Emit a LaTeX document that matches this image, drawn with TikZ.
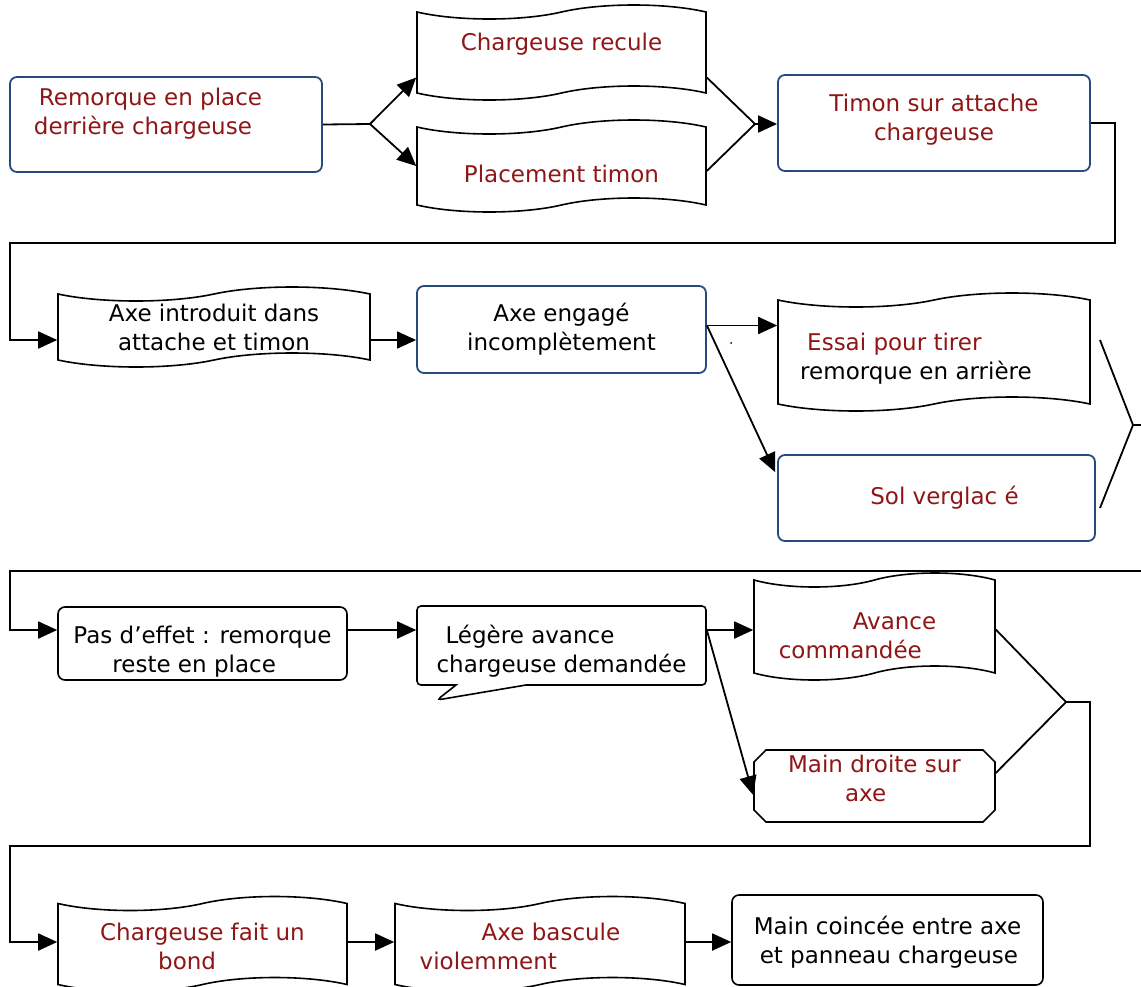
\documentclass[tikz,border=0pt]{standalone}
\usepackage{fontspec}
\setmainfont{DejaVu Sans}
\usetikzlibrary{shapes.symbols,shapes.callouts,shapes.misc,arrows.meta,positioning,calc}

\definecolor{boxred}{RGB}{143,22,22}
\definecolor{boxblue}{RGB}{37,75,125}

\tikzset{
  every node/.style={font=\fontsize{23}{29}\selectfont, inner sep=2pt},
  bluebox/.style={draw=boxblue, line width=1.8pt, rounded corners=7pt, text=boxred, align=center},
  blackbox/.style={draw, line width=1.6pt, rounded corners=7pt, align=center},
  flag/.style={draw, tape, line width=1.6pt, tape bend height=14pt, align=center},
  bubble/.style={draw, rectangle callout, line width=1.6pt, rounded corners=4pt, align=left},
  cutbox/.style={draw, chamfered rectangle, chamfered rectangle xsep=6pt, chamfered rectangle ysep=6pt, line width=1.6pt, align=center},
  lift/.style 2 args={text height=#1, text depth=#2},
  arr/.style={line width=1.8pt, -{Triangle[length=19pt,width=17pt]}},
  link/.style={line width=1.8pt},
}

\begin{document}
\begin{tikzpicture}[x=1pt,y=-1pt]
  \useasboundingbox (0,0) rectangle (1141,986);
  \clip (0,0) rectangle (1141,986);

  % Nodes
  \node[bluebox, minimum width=312pt, minimum height=95pt, align=left, lift={25pt}{6pt}] (remorque) at (166,124.5) {\hspace*{5pt}Remorque en place\hspace*{36pt}\\derrière chargeuse}; % start
  \node[flag, text=boxred, minimum width=289pt, minimum height=95pt, lift={18pt}{22pt}] (recule) at (561.5,52.5) {Chargeuse recule};
  \node[flag, text=boxred, minimum width=289pt, minimum height=92pt, lift={38pt}{6pt}] (placement) at (561.5,166) {Placement timon};
  \node[bluebox, minimum width=312pt, minimum height=96pt, lift={41pt}{6pt}] (timon) at (934,123) {Timon sur attache\\chargeuse};

  \node[flag, minimum width=312pt, minimum height=80pt] (introduit) at (214,327) {Axe introduit dans\\attache et timon};
  \node[bluebox, text=black, minimum width=289pt, minimum height=87pt] (engage) at (561.5,329.5) {Axe engagé\\incomplètement};
  \node[flag, minimum width=312pt, minimum height=118pt, align=left, lift={61pt}{6pt}] (essai) at (934,352) {\hspace*{7pt}\textcolor{boxred}{Essai pour tirer}\\remorque en arrière\hspace*{36pt}};
  \node[bluebox, minimum width=317pt, minimum height=86pt] (sol) at (936.5,498) {\hspace*{16pt}Sol verglac é};

  \node[blackbox, minimum width=289pt, minimum height=73pt, align=left, lift={63pt}{6pt}] (effet) at (202.5,643.5) {Pas d’effet : remorque\\\hspace*{39pt}reste en place};
  \node[bubble, minimum width=289pt, minimum height=79pt, lift={59pt}{6pt}, callout absolute pointer={(437,700)}, callout pointer width=70pt] (avance) at (561.5,645.5) {\hspace*{9pt}Légère avance\\chargeuse demandée};
  \node[flag, text=boxred, minimum width=241pt, minimum height=87pt, align=left, lift={69pt}{6pt}] (commande) at (874.5,626.5) {\hspace*{74pt}Avance\hspace*{34pt}\\commandée};
  \node[cutbox, text=boxred, minimum width=241pt, minimum height=72pt, align=left, lift={37pt}{6pt}] (main) at (874.5,786) {Main droite sur\\\hspace*{57pt}axe};

  \node[flag, text=boxred, minimum width=289pt, minimum height=92pt, align=left, lift={57pt}{6pt}] (bond) at (202.5,944) {Chargeuse fait un\\\hspace*{58pt}bond};
  \node[flag, text=boxred, minimum width=290pt, minimum height=92pt, align=left, lift={57pt}{6pt}] (bascule) at (540,944) {\hspace*{62pt}Axe bascule\hspace*{40pt}\\violemment};
  \node[blackbox, minimum width=311pt, minimum height=90pt, align=left, lift={53pt}{6pt}] (coince) at (887.5,940) {Main coincée entre axe\\\hspace*{6pt}et panneau chargeuse};

  % Junctions
  \coordinate (split) at (370,124);
  \coordinate (join) at (755,124);
  \coordinate (essaiend) at (1100,340);
  \coordinate (solend) at (1100,508);
  \coordinate (fork) at (1133,425);
  \coordinate (forkend) at (1141,425);
  \coordinate (rowend) at (1141,571);
  \coordinate (merge) at (1066,702);

  % Edges
  \draw[link] (remorque.east) -- (split);
  \draw[arr] (split) -- ([yshift=-25pt]recule.west);
  \draw[arr] (split) -- (placement.west);
  \draw[link] ([yshift=-25pt]recule.east) -- (join);
  \draw[link] ([yshift=-5pt]placement.east) -- (join);
  \draw[arr] (join) -- (join -| timon.west);
  \draw[arr] (timon.east) -- ++(24,0) |- (10,243) |- ([yshift=-13pt]introduit.west);

  \draw[arr] ([yshift=-13pt]introduit.east) -- ([yshift=-13pt]introduit.east -| engage.west);
  \draw[arr] ([yshift=4pt]engage.east) -- ([yshift=4pt]engage.east -| essai.west);
  \draw[arr] ([yshift=4pt]engage.east) -- ([xshift=-2pt,yshift=-18pt]sol.north west);
  \fill (731,343) circle (1pt);
  \draw[link] (essaiend) -- (fork) -- (solend);
  \draw[link] (fork) -- (forkend);

  \draw[arr] (rowend) -- (10,571) |- ([yshift=13.5pt]effet.west);
  \draw[arr] ([yshift=13.5pt]effet.east) -- ([yshift=13.5pt]effet.east -| avance.west);
  \draw[arr] ([yshift=15.5pt]avance.east) -- ([yshift=15.5pt]avance.east -| commande.west);
  \draw[arr] ([yshift=15.5pt]avance.east) -- ([yshift=-9pt]main.west);
  \draw[link] ([yshift=-3pt]commande.east) -- (merge);
  \draw[link] ([yshift=13pt]main.east) -- (merge);
  \draw[arr] (merge) -- (1090,702) |- (10,846) |- ([yshift=2pt]bond.west);

  \draw[arr] ([yshift=2pt]bond.east) -- ([yshift=2pt]bond.east -| bascule.west);
  \draw[arr] ([yshift=2pt]bascule.east) -- ([yshift=2pt]bascule.east -| coince.west);

\end{tikzpicture}
\end{document}
